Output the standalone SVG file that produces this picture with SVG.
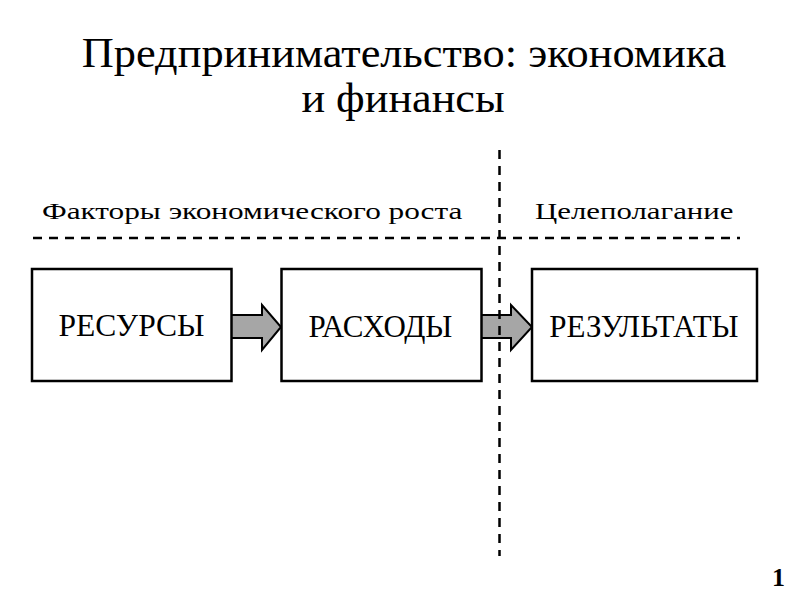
<svg xmlns="http://www.w3.org/2000/svg" width="800" height="600" viewBox="0 0 800 600">
<style>
.box{fill:#fff;stroke:#000;stroke-width:2.5}
.arr{fill:#a6a6a6;stroke:#000;stroke-width:2;stroke-linejoin:miter}
.dash{stroke:#000;stroke-width:2.5;stroke-dasharray:9 7;fill:none}
</style>
<rect width="800" height="600" fill="#fff"/>
<g id="title">
<text style="font-family:'Liberation Serif',serif" font-size="42.5" text-anchor="middle" transform="translate(404,67) scale(1.045,1)">Предпринимательство: экономика</text>
<text style="font-family:'Liberation Serif',serif" font-size="42.5" text-anchor="middle" transform="translate(403,112) scale(1.04,1)">и финансы</text>
</g>
<g id="headers">
<text style="font-family:'Liberation Serif',serif" font-size="23" transform="translate(42,219) scale(1.36,1)">Факторы экономического роста</text>
<text style="font-family:'Liberation Serif',serif" font-size="23" transform="translate(535,219) scale(1.34,1)">Целеполагание</text>
</g>
<g id="connectors">
<polygon class="arr" points="231,315 262,315 262,305 281,327 262,350 262,338 231,338"/>
<polygon class="arr" points="481,315 511,315 511,305 532,327 511,350 511,338 481,338"/>
</g>
<g id="node-resources">
<rect class="box" x="32" y="269" width="199.5" height="112"/>
<text style="font-family:'Liberation Serif',serif" font-size="31.5" text-anchor="middle" x="131.5" y="336">РЕСУРСЫ</text>
</g>
<g id="node-expenses">
<rect class="box" x="281.5" y="269" width="200" height="112"/>
<text style="font-family:'Liberation Serif',serif" font-size="31" text-anchor="middle" x="380.5" y="336.5">РАСХОДЫ</text>
</g>
<g id="node-results">
<rect class="box" x="532" y="269" width="225" height="112"/>
<text style="font-family:'Liberation Serif',serif" font-size="31" text-anchor="middle" x="644" y="336.5">РЕЗУЛЬТАТЫ</text>
</g>
<g id="dividers">
<line class="dash" x1="33" y1="238" x2="740" y2="238"/>
<line class="dash" x1="499.5" y1="150" x2="499.5" y2="556"/>
</g>
<g id="page-number">
<text style="font-family:'Liberation Serif',serif" x="778.5" y="586" font-size="26" font-weight="bold" text-anchor="middle">1</text>
</g>
</svg>
